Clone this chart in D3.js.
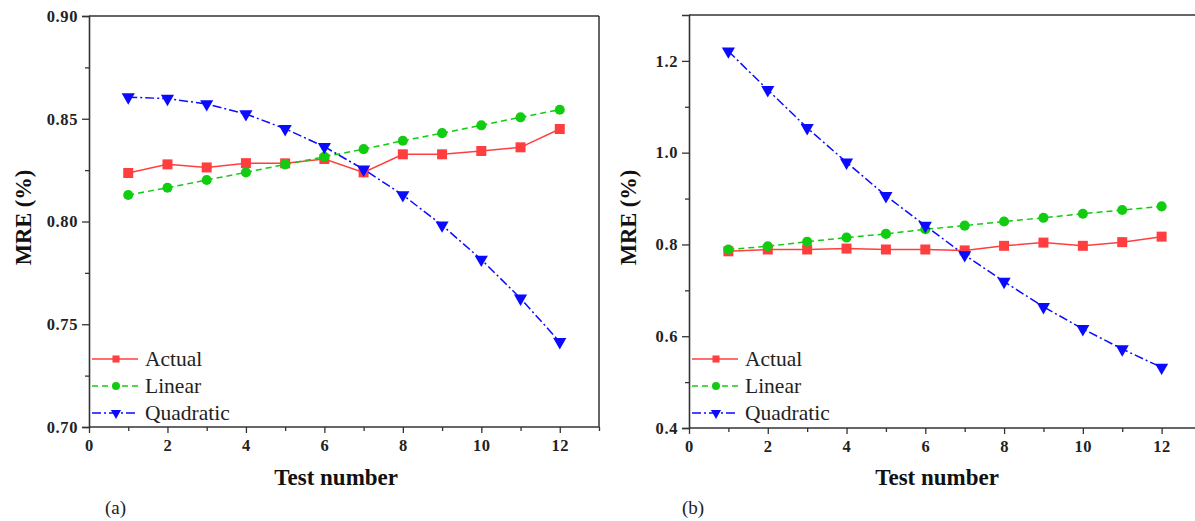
<!DOCTYPE html>
<html><head><meta charset="utf-8">
<script src="https://cdn.jsdelivr.net/npm/d3@7"></script>
<style>body{margin:0;background:#fff}</style>
</head><body><svg id="c" width="1195" height="521"></svg>
<script>
// ---------- data ----------
const testNumbers = [1,2,3,4,5,6,7,8,9,10,11,12];
const seriesNames = ["Actual","Linear","Quadratic"];

const actualA    = [0.8236,0.8278,0.8263,0.8284,0.8283,0.8304,0.8239,0.8327,0.8327,0.8343,0.8361,0.8450];
const linearA    = [0.8129,0.8164,0.8202,0.8239,0.8278,0.8315,0.8352,0.8393,0.8430,0.8468,0.8507,0.8544];
const quadraticA = [0.8605,0.8598,0.8572,0.8523,0.8451,0.8364,0.8254,0.8129,0.7982,0.7815,0.7626,0.7414];

const actualB    = [0.785,0.789,0.789,0.791,0.789,0.789,0.787,0.797,0.804,0.797,0.805,0.817];
const linearB    = [0.789,0.796,0.806,0.815,0.823,0.833,0.841,0.850,0.858,0.867,0.875,0.883];
const quadraticB = [1.221,1.137,1.054,0.979,0.906,0.841,0.777,0.719,0.664,0.616,0.572,0.532];

const xTicks  = [0,2,4,6,8,10,12];
const xMinor  = [1,3,5,7,9,11,13];
const yTicksA = [0.70,0.75,0.80,0.85,0.90];
const yMinorA = [0.725,0.775,0.825,0.875];
const yTicksB = [0.4,0.6,0.8,1.0,1.2];
const yMinorB = [0.5,0.7,0.9,1.1];

const xTitle = "Test number";
const yTitle = "MRE (%)";
const panelLabels = ["(a)","(b)"];

// ---------- drawing ----------
const svg = d3.select("#c");
const colors = ["#ff3f3f","#11cc11","#0a0aff"];
const dashes = [null,"6,4","9,3,2,3"];
const shapes = [d3.symbolSquare,d3.symbolCircle,d3.symbolTriangle];
const sizes  = [100,80,75];
const lsizes = [50,50,45];
const SERIF = '"Liberation Serif"';

function panel(opt){
  const {x0,x1,y0,y1,yDomain,yTicks,yMinor,yFmt,series,yTitleX,label,labelX,xEnd} = opt;
  const x = d3.scaleLinear().domain([0,13]).range([x0,x1]);
  const y = d3.scaleLinear().domain(yDomain).range([y1,y0]);
  const g = svg.append("g");

  // frame
  g.append("line").attr("x1",x0).attr("x2",xEnd).attr("y1",y0).attr("y2",y0)
    .attr("stroke","#333").attr("stroke-width",1.5);
  if (x1 <= 1195) g.append("line").attr("x1",x1).attr("x2",x1).attr("y1",y0).attr("y2",y1)
    .attr("stroke","#333").attr("stroke-width",1.5);

  // axes
  const ax = g.append("g").attr("transform",`translate(0,${y1})`)
    .call(d3.axisBottom(x).tickValues(xTicks).tickSize(6).tickPadding(6).tickFormat(d3.format("d")));
  g.append("g").attr("transform",`translate(0,${y1})`)
    .call(d3.axisBottom(x).tickValues(xMinor).tickSize(4).tickFormat(""))
    .call(s=>s.select(".domain").remove());
  g.append("g").attr("transform",`translate(${x0},0)`)
    .call(d3.axisLeft(y).tickValues(yTicks).tickSize(7).tickPadding(4).tickFormat(d3.format(yFmt)));
  g.append("g").attr("transform",`translate(${x0},0)`)
    .call(d3.axisLeft(y).tickValues(yMinor).tickSize(4).tickFormat(""))
    .call(s=>s.select(".domain").remove());
  g.selectAll(".domain").attr("stroke","#333").attr("stroke-width",1.6);
  g.selectAll(".tick line").attr("stroke","#333").attr("stroke-width",1.3);
  g.selectAll(".tick text").style("font-family",SERIF).style("font-weight","bold")
    .style("font-size","16.5px").style("letter-spacing","0.6px").attr("fill","#222");
  ax.select(".domain").attr("d",`M${x0},0H${xEnd}`);

  // series
  series.forEach((vals,k)=>{
    const line = d3.line().x((d,i)=>x(testNumbers[i])).y(d=>y(d));
    g.append("path").datum(vals).attr("d",line).attr("fill","none")
      .attr("stroke",colors[k]).attr("stroke-width",1.5)
      .attr("stroke-dasharray",dashes[k]);
    g.selectAll(null).data(vals).enter().append("path")
      .attr("d",d3.symbol().type(shapes[k]).size(sizes[k]))
      .attr("transform",(d,i)=>`translate(${x(testNumbers[i])},${y(d)})`+(k===2?" rotate(180)":""))
      .attr("fill",colors[k]);
  });

  // legend
  const lg = g.append("g");
  seriesNames.forEach((n,k)=>{
    const ly = 359 + k*27;
    lg.append("line").attr("x1",x0+3).attr("x2",x0+49).attr("y1",ly).attr("y2",ly)
      .attr("stroke",colors[k]).attr("stroke-width",1.4).attr("stroke-dasharray",dashes[k]);
    lg.append("path").attr("d",d3.symbol().type(shapes[k]).size(lsizes[k])())
      .attr("transform",`translate(${x0+27},${ly})`+(k===2?" rotate(180)":""))
      .attr("fill",colors[k]);
    lg.append("text").attr("x",x0+56).attr("y",ly+7).text(n)
      .style("font-family",SERIF).style("font-size","21.5px").attr("fill","#222");
  });

  // titles
  g.append("text").attr("x",x(6.3)).attr("y",485)
    .attr("text-anchor","middle").style("font-family",SERIF).style("font-weight","bold")
    .style("font-size","23px").attr("fill","#111").text(xTitle);
  g.append("text").attr("transform",`translate(${yTitleX},${(y0+y1)/2-4}) rotate(-90)`)
    .attr("text-anchor","middle").style("font-family",SERIF).style("font-weight","bold")
    .style("font-size","22.5px").attr("fill","#111").text(yTitle);
  g.append("text").attr("x",labelX).attr("y",514)
    .style("font-family",SERIF).style("font-size","19px").attr("fill","#222").text(label);
}

panel({x0:89,x1:599,y0:16,y1:427,yDomain:[0.70,0.90],yTicks:yTicksA,yMinor:yMinorA,yFmt:".2f",
  series:[actualA,linearA,quadraticA],yTitleX:31,label:panelLabels[0],labelX:105,xEnd:599});
panel({x0:689,x1:1201,y0:15,y1:428,yDomain:[0.4,1.3],yTicks:yTicksB,yMinor:yMinorB,yFmt:".1f",
  series:[actualB,linearB,quadraticB],yTitleX:636,label:panelLabels[1],labelX:682,xEnd:1195});
</script></body></html>
